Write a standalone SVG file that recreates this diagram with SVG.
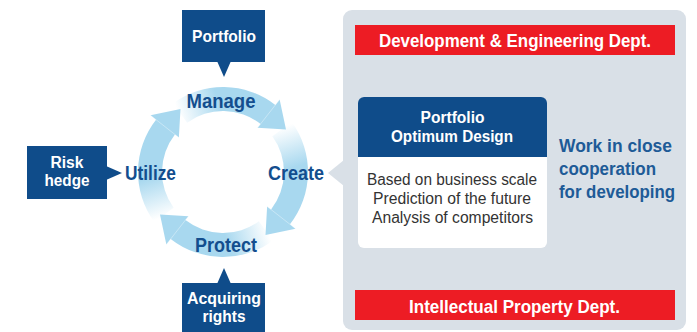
<svg xmlns="http://www.w3.org/2000/svg" xmlns:xlink="http://www.w3.org/1999/xlink" width="697" height="332" viewBox="0 0 697 332">
<style>
.bx{fill:#0f4c8a}
.wt{fill:#fff;font-family:"Liberation Sans Narrow","Liberation Sans",Arial,sans-serif;font-weight:bold;text-anchor:middle}
.cy{fill:#134e8e;font-family:"Liberation Sans Narrow","Liberation Sans",Arial,sans-serif;font-weight:bold;font-size:20px;text-anchor:middle}
.body{fill:#333;font-family:"Liberation Sans Narrow","Liberation Sans",Arial,sans-serif;font-size:16px;text-anchor:middle}
.wk{fill:#1e5b97;font-family:"Liberation Sans Narrow","Liberation Sans",Arial,sans-serif;font-weight:bold;font-size:18px}
.red{fill:#ed1c24}
.gar{fill:#7a8e9b}
</style>
<defs>
<linearGradient id="fade" gradientUnits="userSpaceOnUse" x1="178" y1="113" x2="218" y2="100">
<stop offset="0" stop-color="#a8d8ef" stop-opacity="0"/>
<stop offset="1" stop-color="#a8d8ef" stop-opacity="1"/>
</linearGradient>
<g id="arc">
<path fill="url(#fade)" d="M173.04,103.23 A85,85 0 0 1 275.33,105.02 L279.64,99.5 L286.01,129.5 L257.48,127.87 L260.56,123.93 A61,61 0 0 0 187.14,122.65 Z"/>
<line x1="279.64" y1="99.5" x2="257.48" y2="127.87" stroke="#fff" stroke-opacity="0.45" stroke-width="0.8"/>
</g>
</defs>
<rect width="697" height="332" fill="#fff"/>

<g id="connectors">
<use xlink:href="#arc"/>
<use xlink:href="#arc" transform="rotate(90 223 172)"/>
<use xlink:href="#arc" transform="rotate(180 223 172)"/>
<use xlink:href="#arc" transform="rotate(270 223 172)"/>
<polygon class="gar" points="445.5,97 458.5,97 458.5,72.5 464,72.5 452,61 440,72.5 445.5,72.5"/>
<polygon class="gar" points="445.5,248 458.5,248 458.5,273 464,273 452,285 440,273 445.5,273"/>
</g>

<g id="cycle-labels">
<text class="cy" x="221" y="107.5" textLength="69" lengthAdjust="spacingAndGlyphs">Manage</text>
<text class="cy" x="296" y="180" textLength="56" lengthAdjust="spacingAndGlyphs">Create</text>
<text class="cy" x="226" y="252" textLength="62" lengthAdjust="spacingAndGlyphs">Protect</text>
<text class="cy" x="150.5" y="180" textLength="51" lengthAdjust="spacingAndGlyphs">Utilize</text>
</g>

<g id="portfolio">
<rect class="bx" x="182" y="10" width="83" height="52"/>
<polygon class="bx" points="217,61 231,61 224,77"/>
<text class="wt" x="224" y="42" font-size="17" textLength="64" lengthAdjust="spacingAndGlyphs">Portfolio</text>
</g>

<g id="risk-hedge">
<rect class="bx" x="27" y="146" width="80" height="53"/>
<polygon class="bx" points="106,166 106,180 122,173"/>
<text class="wt" x="67" y="168" font-size="16" textLength="33" lengthAdjust="spacingAndGlyphs">Risk</text>
<text class="wt" x="67" y="186" font-size="16" textLength="45" lengthAdjust="spacingAndGlyphs">hedge</text>
</g>

<g id="acquiring-rights">
<rect class="bx" x="182" y="283" width="83" height="52"/>
<polygon class="bx" points="217,284 231,284 224,268"/>
<text class="wt" x="224" y="304" font-size="16" textLength="74" lengthAdjust="spacingAndGlyphs">Acquiring</text>
<text class="wt" x="224" y="322" font-size="16" textLength="43" lengthAdjust="spacingAndGlyphs">rights</text>
</g>

<g id="panel">
<rect x="343" y="10" width="343" height="320" rx="9" fill="#d9e0e7"/>
<polygon points="344,160 344,186 328,173" fill="#d9e0e7"/>
</g>

<g id="dev-eng">
<rect class="red" x="355" y="25" width="320" height="30"/>
<text class="wt" x="515" y="47" font-size="19" textLength="272" lengthAdjust="spacingAndGlyphs">Development &amp; Engineering Dept.</text>
</g>

<g id="ip-dept">
<rect class="red" x="355" y="290" width="320" height="30"/>
<text class="wt" x="514.5" y="313" font-size="19" textLength="211" lengthAdjust="spacingAndGlyphs">Intellectual Property Dept.</text>
</g>

<g id="optimum-design">
<rect x="358" y="97" width="189" height="151" rx="6" fill="#fff"/>
<path class="bx" d="M358,157 V103 A6,6 0 0 1 364,97 H541 A6,6 0 0 1 547,103 V157 Z"/>
<text class="wt" x="452.5" y="123" font-size="16" textLength="64" lengthAdjust="spacingAndGlyphs">Portfolio</text>
<text class="wt" x="452" y="142" font-size="16" textLength="122" lengthAdjust="spacingAndGlyphs">Optimum Design</text>
<text class="body" x="452" y="185" textLength="170" lengthAdjust="spacingAndGlyphs">Based on business scale</text>
<text class="body" x="452" y="204" textLength="158" lengthAdjust="spacingAndGlyphs">Prediction of the future</text>
<text class="body" x="452.5" y="223" textLength="161" lengthAdjust="spacingAndGlyphs">Analysis of competitors</text>
</g>

<g id="cooperation">
<text class="wk" x="559" y="152" textLength="113" lengthAdjust="spacingAndGlyphs">Work in close</text>
<text class="wk" x="559" y="175" textLength="97" lengthAdjust="spacingAndGlyphs">cooperation</text>
<text class="wk" x="559" y="198" textLength="116" lengthAdjust="spacingAndGlyphs">for developing</text>
</g>
</svg>
